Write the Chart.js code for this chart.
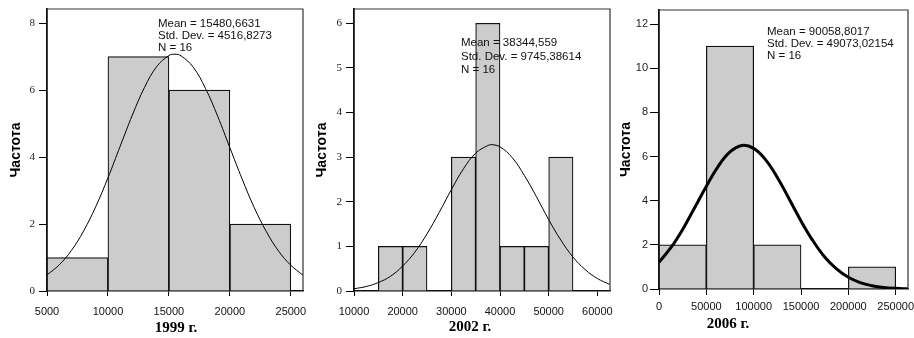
<!DOCTYPE html>
<html>
<head>
<meta charset="utf-8">
<script src="https://cdn.jsdelivr.net/npm/chart.js@4"></script>
<style>
  body { margin: 0; background: #fff; }
  .panel { position: absolute; top: 0; height: 338px; }
</style>
</head>
<body>
<div class="panel" style="left:0;width:310px"><canvas id="c1"></canvas></div>
<div class="panel" style="left:310px;width:305px"><canvas id="c2"></canvas></div>
<div class="panel" style="left:615px;width:299px"><canvas id="c3"></canvas></div>
<script>
// 1999: bins of 5000
var bins1999 = [7500, 12500, 17500, 22500];
var counts1999 = [1, 7, 6, 2];
var ticks1999 = [5000, 10000, 15000, 20000, 25000];
var curveX1999 = [5000, 6000, 7000, 8000, 9000, 10000, 11000, 12000, 13000, 14000, 15000, 15500,
    16000, 17000, 18000, 19000, 20000, 21000, 22000, 23000, 24000, 25000, 26000];
var curveY1999 = [0.48, 0.78, 1.21, 1.79, 2.52, 3.38, 4.32, 5.25, 6.08, 6.70, 7.03, 7.07,
    7.02, 6.68, 6.05, 5.22, 4.28, 3.35, 2.49, 1.77, 1.19, 0.77, 0.47];
var notes1999 = ['Mean = 15480,6631', 'Std. Dev. = 4516,8273', 'N = 16'];

// 2002: bins of 5000
var bins2002 = [17500, 22500, 32500, 37500, 42500, 47500, 52500];
var counts2002 = [1, 1, 3, 6, 1, 1, 3];
var ticks2002 = [10000, 20000, 30000, 40000, 50000, 60000];
var curveX2002 = [10000, 12500, 15000, 17500, 20000, 22500, 25000, 27500, 30000, 32500, 35000, 37500,
    38300, 40000, 42500, 45000, 47500, 50000, 52500, 55000, 57500, 60000, 62500];
var curveY2002 = [0.05, 0.10, 0.19, 0.33, 0.56, 0.87, 1.28, 1.76, 2.27, 2.74, 3.09, 3.26,
    3.28, 3.23, 2.99, 2.59, 2.11, 1.60, 1.14, 0.76, 0.48, 0.28, 0.15];
var notes2002 = ['Mean = 38344,559', 'Std. Dev. = 9745,38614', 'N = 16'];

// 2006: bins of 50000
var bins2006 = [25000, 75000, 125000, 225000];
var counts2006 = [2, 11, 2, 1];
var ticks2006 = [0, 50000, 100000, 150000, 200000, 250000];
var curveX2006 = [0, 12500, 25000, 37500, 50000, 62500, 75000, 87500, 100000, 112500, 125000, 137500,
    150000, 162500, 175000, 187500, 200000, 212500, 225000, 237500, 250000, 262500];
var curveY2006 = [1.21, 1.87, 2.70, 3.67, 4.66, 5.56, 6.21, 6.50, 6.37, 5.86, 5.05, 4.08,
    3.08, 2.19, 1.45, 0.91, 0.53, 0.29, 0.15, 0.07, 0.03, 0.01];
var notes2006 = ['Mean = 90058,8017', 'Std. Dev. = 49073,02154', 'N = 16'];

function pairs(xs, ys) {
    return xs.map(function(x, i) { return {x: x, y: ys[i]}; });
}

var frameAndText = {
    id: 'frameAndText',
    afterDraw: function(chart) {
        var ctx = chart.ctx;
        var a = chart.chartArea;
        var o = chart.options.plugins.frameAndText;
        ctx.save();
        ctx.strokeStyle = '#333';
        ctx.lineWidth = 1.2;
        ctx.beginPath();
        ctx.moveTo(a.left, a.top);
        ctx.lineTo(a.right, a.top);
        ctx.lineTo(a.right, a.bottom);
        ctx.stroke();
        ctx.fillStyle = '#111';
        ctx.font = '11.5px "Liberation Sans", Arial, sans-serif';
        ctx.textBaseline = 'middle';
        ctx.textAlign = 'left';
        o.notes.forEach(function(t, i) {
            ctx.fillText(t, o.noteX, o.noteY + i * o.noteGap);
        });
        ctx.fillStyle = '#000';
        ctx.font = 'bold 15px "Liberation Serif", "Times New Roman", serif';
        ctx.textAlign = 'center';
        ctx.fillText(o.title, o.titleX, o.titleY);
        ctx.restore();
    }
};

function makeChart(id, p) {
    var ctx = document.getElementById(id).getContext('2d');
    return new Chart(ctx, {
        type: 'bar',
        data: {
            datasets: [{
                type: 'line',
                data: pairs(p.curveX, p.curveY),
                borderColor: '#000',
                borderWidth: p.curveWidth,
                pointRadius: 0,
                tension: 0.4,
                fill: false,
                order: 0
            }, {
                type: 'bar',
                data: pairs(p.bins, p.counts),
                backgroundColor: '#cccccc',
                borderColor: '#111',
                borderWidth: 1.2,
                barPercentage: 1,
                categoryPercentage: 1,
                order: 1
            }]
        },
        options: {
            responsive: true,
            maintainAspectRatio: false,
            animation: false,
            layout: { padding: p.padding },
            plugins: {
                legend: { display: false },
                tooltip: { enabled: false },
                frameAndText: {
                    notes: p.notes, noteX: p.noteX, noteY: p.noteY, noteGap: p.noteGap,
                    title: p.title, titleX: p.titleX, titleY: p.titleY
                }
            },
            scales: {
                x: {
                    type: 'linear',
                    offset: false,
                    min: p.xMin,
                    max: p.xMax,
                    grid: { offset: false, drawOnChartArea: false, color: '#000', tickLength: p.xTick },
                    border: { color: '#111', width: 1.5 },
                    ticks: {
                        padding: p.xPad,
                        color: '#111',
                        maxRotation: 0,
                        autoSkip: false,
                        font: { family: '"Liberation Sans", Arial, sans-serif', size: 11 },
                        callback: function(v) { return String(v); }
                    },
                    afterBuildTicks: function(s) {
                        s.ticks = p.xTicks.map(function(v) { return {value: v}; });
                    },
                    afterFit: function(s) { s.height = p.xAxisH; s.paddingLeft = 0; s.paddingRight = 0; }
                },
                y: {
                    min: 0,
                    max: p.yMax,
                    grid: { drawOnChartArea: false, color: '#000', tickLength: p.yTick },
                    border: { color: '#111', width: 1.8 },
                    ticks: {
                        stepSize: p.yStep,
                        includeBounds: false,
                        padding: p.yPad,
                        color: '#222',
                        font: { family: p.yFont, size: 11 }
                    },
                    title: {
                        display: true,
                        text: 'Частота',
                        color: '#000',
                        padding: { top: p.yTitlePad, bottom: 0 },
                        font: { family: '"Liberation Sans", Arial, sans-serif', size: 14, weight: 'bold' }
                    },
                    afterFit: function(s) { s.width = p.yAxisW; s.paddingTop = 0; s.paddingBottom = 0; }
                }
            }
        },
        plugins: [frameAndText]
    });
}

makeChart('c1', {
    bins: bins1999, counts: counts1999, curveX: curveX1999, curveY: curveY1999, curveWidth: 1,
    notes: notes1999, noteX: 158, noteY: 23.5, noteGap: 12,
    title: '1999 г.', titleX: 176, titleY: 328,
    padding: { left: 0, right: 7, top: 9, bottom: 0 },
    xMin: 5000, xMax: 26000, xTicks: ticks1999, xTick: 5, xPad: 9, xAxisH: 47,
    yMax: 8.42, yStep: 2, yTick: 8, yPad: 4, yAxisW: 47, yTitlePad: 8,
    yFont: '"Liberation Serif", "Times New Roman", serif'
});

makeChart('c2', {
    bins: bins2002, counts: counts2002, curveX: curveX2002, curveY: curveY2002, curveWidth: 1,
    notes: notes2002, noteX: 151, noteY: 43.3, noteGap: 13.3,
    title: '2002 г.', titleX: 160, titleY: 327,
    padding: { left: 0, right: 5, top: 9, bottom: 0 },
    xMin: 10000, xMax: 62600, xTicks: ticks2002, xTick: 5, xPad: 9, xAxisH: 47,
    yMax: 6.32, yStep: 1, yTick: 8, yPad: 4, yAxisW: 44, yTitlePad: 4,
    yFont: '"Liberation Serif", "Times New Roman", serif'
});

makeChart('c3', {
    bins: bins2006, counts: counts2006, curveX: curveX2006, curveY: curveY2006, curveWidth: 3,
    notes: notes2006, noteX: 152, noteY: 32, noteGap: 11.9,
    title: '2006 г.', titleX: 113, titleY: 324,
    padding: { left: 0, right: 6, top: 10, bottom: 0 },
    xMin: 0, xMax: 263000, xTicks: ticks2006, xTick: 6, xPad: 5, xAxisH: 49,
    yMax: 12.64, yStep: 2, yTick: 9, yPad: 2, yAxisW: 44, yTitlePad: 3,
    yFont: '"Liberation Sans", Arial, sans-serif'
});
</script>
</body>
</html>
